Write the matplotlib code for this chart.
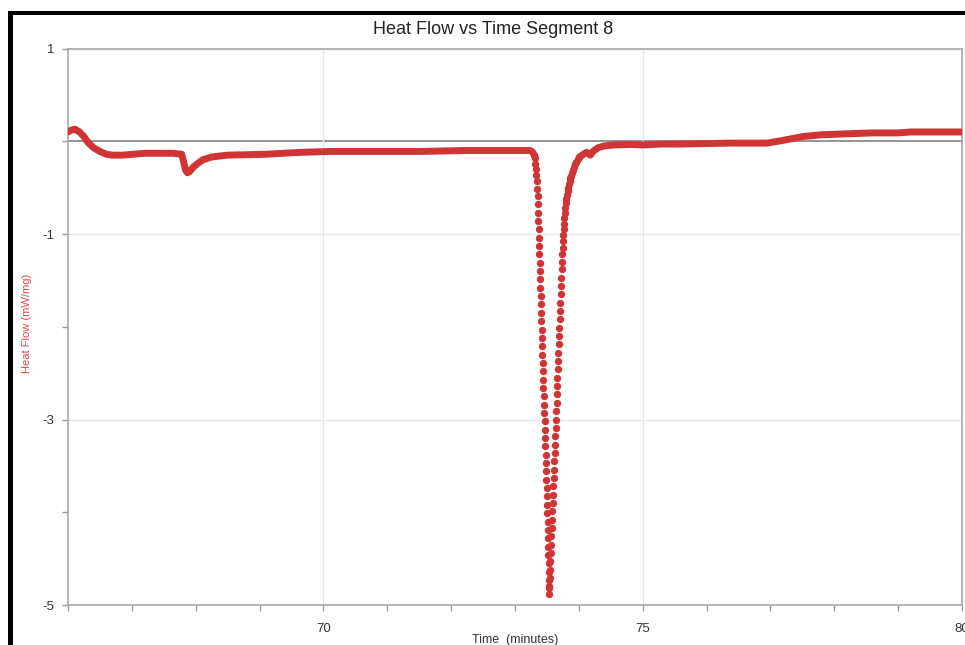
import matplotlib
matplotlib.use("Agg")
import matplotlib.pyplot as plt
from matplotlib.patches import Rectangle
from matplotlib.ticker import MultipleLocator, FixedLocator

plt.rcParams['font.family'] = ['Liberation Sans', 'DejaVu Sans']
plt.rcParams['axes.unicode_minus'] = False

# Data (time in minutes, heat flow in mW/mg)
# baseline before the melting peak, including the small dip near 67.9 min
time_pre = [66.00, 66.05, 66.11, 66.18, 66.25, 66.31, 66.40, 66.50, 66.60, 66.70,
            66.85, 67.02, 67.20, 67.44, 67.65, 67.78, 67.81, 67.84, 67.87, 67.90,
            67.96, 68.03, 68.11, 68.25, 68.49, 68.80, 69.10, 69.63, 70.10, 70.80,
            71.50, 72.20, 72.80, 73.10, 73.24, 73.28, 73.30]
flow_pre = [0.10, 0.12, 0.13, 0.10, 0.05, -0.01, -0.07, -0.11, -0.14, -0.15,
            -0.15, -0.14, -0.13, -0.13, -0.13, -0.14, -0.22, -0.31, -0.34, -0.33,
            -0.28, -0.24, -0.20, -0.17, -0.15, -0.145, -0.14, -0.12, -0.11, -0.11,
            -0.11, -0.10, -0.10, -0.10, -0.10, -0.12, -0.15]

# individual samples through the peak (visible as separate dots)
time_peak = [73.300, 73.310, 73.320, 73.328, 73.336, 73.342, 73.348, 73.354, 73.358, 73.362,
             73.366, 73.370, 73.374, 73.378, 73.382, 73.386, 73.390, 73.394, 73.398, 73.402,
             73.406, 73.410, 73.414, 73.418, 73.422, 73.426, 73.430, 73.434, 73.438, 73.442,
             73.446, 73.450, 73.454, 73.458, 73.462, 73.466, 73.470, 73.474, 73.478, 73.482,
             73.486, 73.490, 73.494, 73.498, 73.502, 73.506, 73.510, 73.514, 73.518, 73.521,
             73.524, 73.527, 73.530, 73.532, 73.534, 73.536,
             73.540, 73.545, 73.550, 73.555, 73.560, 73.565, 73.570, 73.575, 73.580, 73.585,
             73.590, 73.595, 73.600, 73.605, 73.610, 73.615, 73.620, 73.625, 73.630, 73.635,
             73.640, 73.645, 73.650, 73.655, 73.660, 73.665, 73.670, 73.675, 73.680, 73.685,
             73.690, 73.695, 73.700, 73.705, 73.710, 73.715, 73.720, 73.725, 73.730, 73.735,
             73.740, 73.745, 73.750, 73.756, 73.762, 73.768, 73.775, 73.782, 73.790, 73.798,
             73.806, 73.815, 73.825, 73.835, 73.845, 73.855, 73.865, 73.877, 73.890, 73.905,
             73.920, 73.940, 73.960, 73.985, 74.010]
flow_peak = [-0.15, -0.18, -0.24, -0.30, -0.36, -0.43, -0.51, -0.59, -0.68, -0.77,
             -0.86, -0.95, -1.04, -1.13, -1.22, -1.31, -1.40, -1.49, -1.58, -1.67,
             -1.76, -1.85, -1.94, -2.03, -2.12, -2.21, -2.30, -2.39, -2.48, -2.57,
             -2.66, -2.75, -2.84, -2.93, -3.02, -3.11, -3.20, -3.29, -3.38, -3.47,
             -3.56, -3.65, -3.74, -3.83, -3.92, -4.01, -4.10, -4.19, -4.28, -4.37,
             -4.46, -4.55, -4.64, -4.73, -4.82, -4.88,
             -4.80, -4.71, -4.62, -4.53, -4.44, -4.35, -4.26, -4.17, -4.08, -3.99,
             -3.90, -3.81, -3.72, -3.63, -3.54, -3.45, -3.36, -3.27, -3.18, -3.09,
             -3.00, -2.91, -2.82, -2.73, -2.64, -2.55, -2.46, -2.37, -2.28, -2.19,
             -2.10, -2.01, -1.92, -1.83, -1.74, -1.65, -1.56, -1.47, -1.38, -1.30,
             -1.22, -1.15, -1.08, -1.01, -0.95, -0.89, -0.83, -0.77, -0.72, -0.67,
             -0.62, -0.58, -0.54, -0.50, -0.46, -0.43, -0.40, -0.37, -0.34, -0.31,
             -0.28, -0.25, -0.22, -0.19, -0.17]

# baseline after the peak
time_post = [74.01, 74.05, 74.12, 74.18, 74.22, 74.30, 74.40, 74.55, 74.80, 75.00,
             75.30, 75.60, 76.00, 76.40, 76.95, 77.20, 77.50, 77.80, 78.20, 78.60,
             79.00, 79.20, 79.60, 80.00]
flow_post = [-0.17, -0.15, -0.12, -0.15, -0.11, -0.07, -0.05, -0.04, -0.035, -0.04,
             -0.03, -0.03, -0.025, -0.02, -0.02, 0.01, 0.05, 0.07, 0.08, 0.09,
             0.09, 0.10, 0.10, 0.10]

red = '#d03535'

fig = plt.figure(figsize=(9.65, 6.45), dpi=100)
W, H = 965, 645
ax = fig.add_axes([68 / W, 40 / H, 894 / W, 556.5 / H])

ax.axhline(0, color='#8c8c8c', lw=1.3, zorder=1)
ax.plot(time_pre, flow_pre, color=red, lw=5.0, solid_capstyle='round', zorder=3)
ax.plot(time_post, flow_post, color=red, lw=5.0, solid_capstyle='round', zorder=3)
ax.plot(time_peak, flow_peak, 'o', color=red, ms=5.3, mec='none', zorder=3)

ax.set_xlim(66, 80)
ax.set_ylim(-5, 1)
ax.xaxis.set_major_locator(FixedLocator([70, 75, 80]))
ax.xaxis.set_minor_locator(MultipleLocator(1))
ax.yaxis.set_major_locator(FixedLocator([1, -1, -3, -5]))
ax.yaxis.set_minor_locator(MultipleLocator(1))
ax.tick_params(which='both', direction='out', length=4, width=1, color='#9a9a9a')
ax.tick_params(axis='x', which='major', pad=9, labelsize=9.5, labelcolor='#333333')
ax.tick_params(axis='y', which='major', pad=6, labelsize=9.5, labelcolor='#333333')
ax.grid(True, which='major', color='#e6e6e6', lw=1, zorder=0)
for s in ax.spines.values():
    s.set_color('#a8a8a8')
    s.set_linewidth(1.2)

fig.text(493 / W, 1 - 30 / H, 'Heat Flow vs Time Segment 8', ha='center', va='center',
         fontsize=13, color='#222222')
fig.text(27 / W, 1 - 323 / H, 'Heat Flow (mW/mg)', rotation=90, ha='center', va='center',
         fontsize=8, color='#e04848')
fig.text(515 / W, 1 - 634 / H, 'Time  (minutes)', ha='center', va='top',
         fontsize=9, color='#333333')

# black screenshot border on the left and top
fig.add_artist(Rectangle((8 / W, 0), 5 / W, (H - 11) / H, transform=fig.transFigure,
                         color='black', lw=0))
fig.add_artist(Rectangle((8 / W, (H - 15) / H), (W - 8) / W, 4 / H, transform=fig.transFigure,
                         color='black', lw=0))

fig.savefig('out.png', dpi=100)
